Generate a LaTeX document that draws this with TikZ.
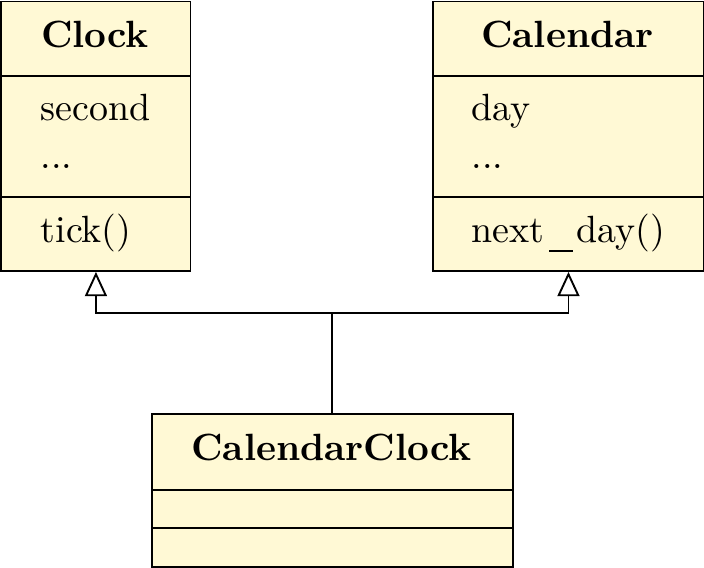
\documentclass[tikz,border=0pt]{standalone}
\usetikzlibrary{arrows.meta}
\definecolor{classfill}{RGB}{255,249,213}
\begin{document}
\begin{tikzpicture}[x=0.2635pt,y=-0.2635pt,
  comp/.style={draw=black,fill=classfill,line width=0.5pt,rectangle,inner sep=0pt,anchor=north west},
  title/.style={font=\bfseries,anchor=base,inner sep=0pt},
  member/.style={anchor=base west,inner sep=0pt},
  inherit/.style={line width=0.5pt,-{Triangle[open,length=6.4pt,width=5.8pt,fill=white]}}]
\useasboundingbox (0,0) rectangle (704,567);
% Clock
\node[comp,minimum width=189*0.2635pt,minimum height=75*0.2635pt] (clockT) at (0.5,0.5) {};
\node[comp,minimum width=189*0.2635pt,minimum height=121*0.2635pt] (clockA) at (0.5,75) {};
\node[comp,minimum width=189*0.2635pt,minimum height=74*0.2635pt] (clockM) at (0.5,196) {};
\node[title] (clockName) at (95,47) {Clock};
\node[member] (clockA1) at (40,120) {second};
\node[member] (clockA2) at (40,168) {...};
\node[member] (clockM1) at (40,242) {tick()};
% Calendar
\node[comp,minimum width=271*0.2635pt,minimum height=75*0.2635pt] (calT) at (432,0.5) {};
\node[comp,minimum width=271*0.2635pt,minimum height=121*0.2635pt] (calA) at (432,75) {};
\node[comp,minimum width=271*0.2635pt,minimum height=74*0.2635pt] (calM) at (432,196) {};
\node[title] (calName) at (567.5,47) {Calendar};
\node[member] (calA1) at (471,120) {day};
\node[member] (calA2) at (471,168) {...};
\node[member] (calM1) at (471,242) {next\kern1.2pt\rule[-2.6pt]{6.2pt}{0.6pt}\kern1.05pt day()};
% CalendarClock
\node[comp,minimum width=361*0.2635pt,minimum height=76*0.2635pt] (ccT) at (151,413) {};
\node[comp,minimum width=361*0.2635pt,minimum height=38*0.2635pt] (ccA) at (151,489) {};
\node[comp,minimum width=361*0.2635pt,minimum height=39*0.2635pt] (ccM) at (151,527) {};
\node[title] (ccName) at (331.5,460) {CalendarClock};
% connectors
\coordinate (join) at (332,313);
\draw[line width=0.5pt] (join |- ccT.north) -- (join);
\draw[inherit] (join) -| (clockM.south);
\draw[inherit] (join) -| (calM.south);
\end{tikzpicture}
\end{document}
